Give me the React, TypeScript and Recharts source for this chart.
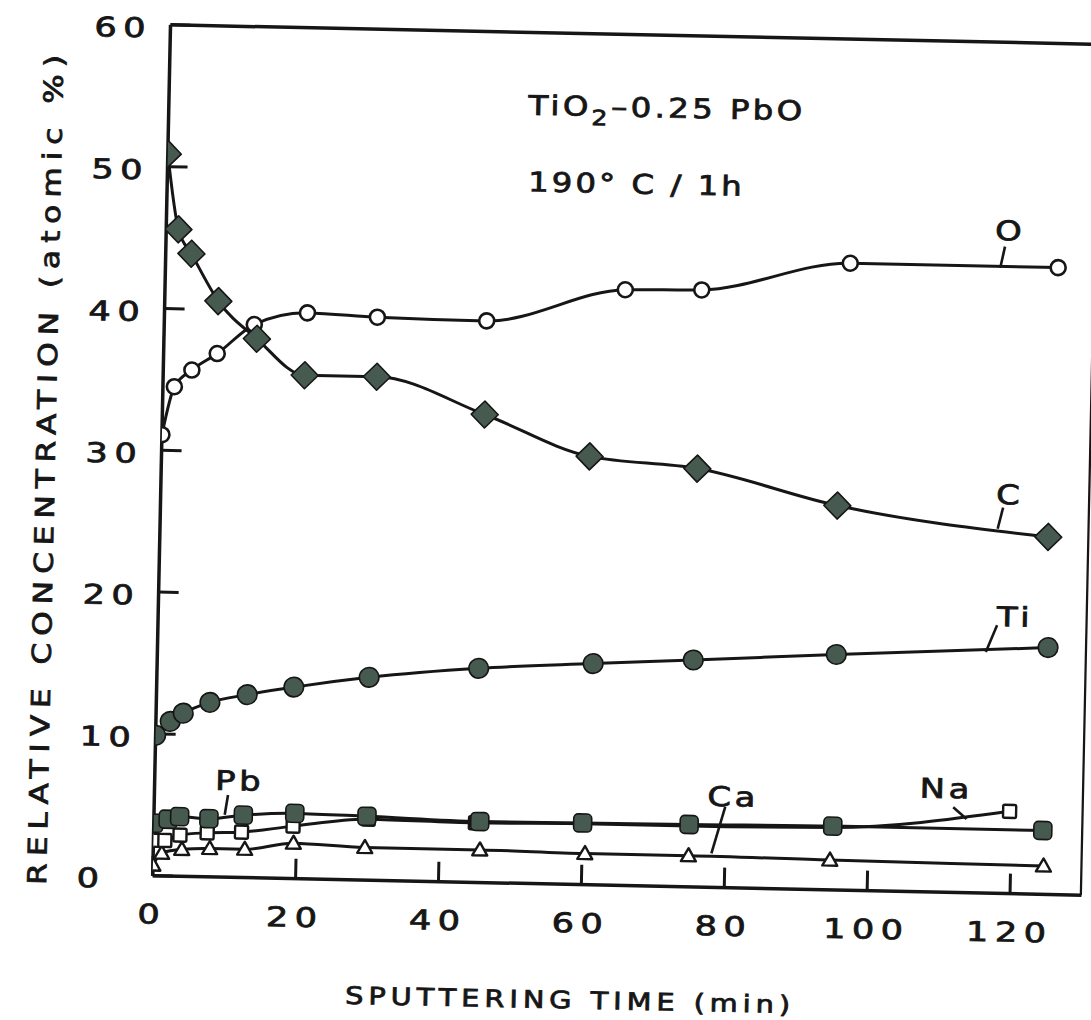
import React from 'react';
import { LineChart, Line, XAxis, YAxis, ReferenceLine, ReferenceDot, Label } from 'recharts';

// Sputter depth profile of a TiO2–0.25 PbO film annealed at 190 °C for 1 h
const timeTicks = [0, 20, 40, 60, 80, 100, 120];
const concTicks = [0, 10, 20, 30, 40, 50, 60];

const oxygenTime = [0, 1.6, 4, 7.5, 12.6, 20, 29.8, 45.1, 64.4, 75.1, 95.8, 124.9];
const oxygenConc = [31.1, 34.5, 35.7, 36.9, 39.0, 39.9, 39.7, 39.6, 42.0, 42.1, 44.2, 44.2];

const carbonTime = [0, 1.7, 3.6, 7.5, 13, 19.8, 29.9, 45.1, 59.9, 75, 94.7, 124.3];
const carbonConc = [50.9, 45.6, 43.9, 40.6, 38.0, 35.5, 35.5, 33.0, 30.2, 29.5, 27.1, 25.2];

const titaniumTime = [0, 2, 3.8, 7.5, 12.7, 19.2, 29.7, 45, 61, 75, 95, 124.6];
const titaniumConc = [9.9, 10.9, 11.5, 12.3, 12.9, 13.5, 14.3, 15.1, 15.6, 16.0, 16.6, 17.4];

const leadTime = [0, 2, 3.6, 7.7, 12.5, 19.7, 29.8, 45.6, 60, 74.9, 95, 124.4];
const leadConc = [3.7, 4.0, 4.2, 4.1, 4.4, 4.6, 4.5, 4.3, 4.35, 4.4, 4.5, 4.5];

const sodiumTime = [0, 1.6, 3.7, 7.5, 12.3, 19.5, 30, 45, 60, 75, 95, 119.7];
const sodiumConc = [2.5, 2.5, 2.9, 3.1, 3.2, 3.7, 4.3, 4.2, 4.3, 4.3, 4.4, 5.8];

const calciumTime = [0, 1.2, 4, 7.9, 12.8, 19.6, 29.6, 45.7, 60.4, 74.9, 94.7, 124.6];
const calciumConc = [0.75, 1.6, 1.9, 2.0, 2.0, 2.5, 2.3, 2.3, 2.2, 2.2, 2.1, 2.0];

const toPoints = (t: number[], v: number[]) => t.map((x, i) => ({ t: x, v: v[i] }));

const oxygen = toPoints(oxygenTime, oxygenConc);
const carbon = toPoints(carbonTime, carbonConc);
const titanium = toPoints(titaniumTime, titaniumConc);
const lead = toPoints(leadTime, leadConc);
const sodium = toPoints(sodiumTime, sodiumConc);
const calcium = toPoints(calciumTime, calciumConc);

// Element tags with their leader lines, placed in axis units
const seriesTags = [
  { text: 'O', at: [118.1, 46.7], lead: [[117.4, 45.6], [116.8, 44.1]] },
  { text: 'C', at: [118.8, 28.1], lead: [[117.9, 27.2], [117.2, 25.7]] },
  { text: 'Ti', at: [119.9, 19.5], lead: [[117.4, 18.9], [115.9, 17.0]] },
  { text: 'Pb', at: [11.9, 6.8], lead: [[10.3, 5.8], [9.9, 4.4]] },
  { text: 'Ca', at: [81.0, 6.4], lead: [[79.9, 5.7], [78.1, 2.4]] },
  { text: 'Na', at: [110.8, 7.3], lead: [[111.8, 6.0], [113.7, 5.2]] },
];

const INK = '#161616';
const FILL = '#475a4f';
const FONT = '"DejaVu Sans", Verdana, sans-serif';

type LetteringProps = {
  x: number;
  y: number;
  children: React.ReactNode;
  size?: number;
  stretch?: number;
  spacing?: number;
  anchor?: 'start' | 'middle' | 'end';
  rotate?: number;
  span?: number;
  central?: boolean;
};

// Wide technical-pen style lettering: stretched glyphs, open spacing, heavy stroke
function Lettering({ x, y, children, size = 27, stretch = 1.3, spacing = 5, anchor = 'middle', rotate = 0, span, central }: LetteringProps) {
  return (
    <text
      transform={`translate(${x},${y}) rotate(${rotate}) scale(${stretch},1)`}
      x={0}
      y={0}
      textAnchor={anchor}
      dominantBaseline={central ? 'central' : undefined}
      fontFamily={FONT}
      fontSize={size}
      letterSpacing={span ? undefined : spacing}
      textLength={span ? span / stretch : undefined}
      lengthAdjust={span ? 'spacing' : undefined}
      fill={INK}
      stroke={INK}
      strokeWidth={0.8}
    >
      {children}
    </text>
  );
}

const valid = (p: any) => typeof p.cx === 'number' && typeof p.cy === 'number' && !Number.isNaN(p.cy);

const DiamondDot = (p: any) => {
  if (!valid(p)) return <g key={p.key} />;
  const r = 13.5;
  const { cx, cy } = p;
  return (
    <polygon
      key={p.key}
      points={`${cx},${cy - r} ${cx + r},${cy} ${cx},${cy + r} ${cx - r},${cy}`}
      fill={FILL}
      stroke={INK}
      strokeWidth={1.6}
      strokeLinejoin="round"
    />
  );
};

const OpenCircleDot = (p: any) =>
  valid(p) ? <circle key={p.key} cx={p.cx} cy={p.cy} r={7.5} fill="#fff" stroke={INK} strokeWidth={2.6} /> : <g key={p.key} />;

const FilledCircleDot = (p: any) =>
  valid(p) ? <circle key={p.key} cx={p.cx} cy={p.cy} r={9.8} fill={FILL} stroke={INK} strokeWidth={1.6} /> : <g key={p.key} />;

const FilledSquareDot = (p: any) =>
  valid(p) ? (
    <rect key={p.key} x={p.cx - 9} y={p.cy - 9} width={18} height={18} rx={4.5} fill={FILL} stroke={INK} strokeWidth={1.6} />
  ) : (
    <g key={p.key} />
  );

const OpenSquareDot = (p: any) =>
  valid(p) ? (
    <rect key={p.key} x={p.cx - 6.5} y={p.cy - 6.5} width={13} height={13} rx={1.5} fill="#fff" stroke={INK} strokeWidth={2.4} />
  ) : (
    <g key={p.key} />
  );

const OpenTriangleDot = (p: any) => {
  if (!valid(p)) return <g key={p.key} />;
  const { cx, cy } = p;
  return (
    <polygon
      key={p.key}
      points={`${cx},${cy - 7.5} ${cx + 7.5},${cy + 5.5} ${cx - 7.5},${cy + 5.5}`}
      fill="#fff"
      stroke={INK}
      strokeWidth={2.4}
      strokeLinejoin="round"
    />
  );
};

const TimeTick = (p: any) => <Lettering x={p.x} y={p.y}>{p.payload.value}</Lettering>;
const ConcTick = (p: any) => (
  <Lettering x={p.x} y={p.y + 13} anchor="start">
    {p.payload.value}
  </Lettering>
);

const axisLine = { stroke: INK, strokeWidth: 3.5 };
const tickLine = { stroke: INK, strokeWidth: 3 };

const curve = (data: any[], dot: any, name: string) => (
  <Line
    key={name}
    name={name}
    data={data}
    dataKey="v"
    type="monotone"
    stroke={INK}
    strokeWidth={3}
    dot={dot}
    activeDot={false}
    isAnimationActive={false}
  />
);

export default function App() {
  return (
    <div style={{ position: 'absolute', left: 0, top: 0, width: 1091, height: 1020, background: '#fff', overflow: 'hidden' }}>
      <div style={{ transform: 'rotate(1.2deg)', transformOrigin: '626px 460px' }}>
        <LineChart width={1091} height={1020} margin={{ top: 0, right: 0, bottom: 0, left: 0 }}>
          <XAxis
            dataKey="t"
            type="number"
            domain={[0, 130]}
            ticks={timeTicks}
            allowDataOverflow
            height={134.5}
            axisLine={axisLine}
            tickLine={tickLine}
            tickSize={-20}
            tickMargin={68}
            tick={TimeTick}
            interval={0}
          >
            <Label
              content={(lp: any) => {
                const vb = lp.viewBox;
                return (
                  <Lettering x={vb.x + vb.width / 2 - 47} y={vb.y + 124} size={24} stretch={1.2} span={445}>
                    SPUTTERING TIME (min)
                  </Lettering>
                );
              }}
            />
          </XAxis>
          <XAxis
            xAxisId="top"
            orientation="top"
            type="number"
            domain={[0, 130]}
            ticks={timeTicks}
            allowDataOverflow
            height={34.5}
            axisLine={axisLine}
            tickLine={tickLine}
            tickSize={-20}
            tick={false}
            interval={0}
          />
          <YAxis
            type="number"
            domain={[0, 60]}
            ticks={concTicks}
            allowDataOverflow
            width={161.5}
            axisLine={axisLine}
            tickLine={tickLine}
            tickSize={-20}
            tickMargin={96}
            tick={ConcTick}
            interval={0}
          >
            <Label
              content={(lp: any) => {
                const vb = lp.viewBox;
                return (
                  <Lettering x={55} y={vb.y + vb.height / 2 + 22} size={26} stretch={1.2} rotate={-90} span={830}>
                    RELATIVE CONCENTRATION (atomic %)
                  </Lettering>
                );
              }}
            />
          </YAxis>
          <YAxis
            yAxisId="right"
            orientation="right"
            type="number"
            domain={[0, 60]}
            ticks={concTicks}
            allowDataOverflow
            width={0.5}
            axisLine={axisLine}
            tickLine={tickLine}
            tickSize={-20}
            tick={false}
            interval={0}
          />

          {seriesTags.map((tag) => (
            <ReferenceLine
              key={`lead-${tag.text}`}
              segment={[
                { x: tag.lead[0][0], y: tag.lead[0][1] },
                { x: tag.lead[1][0], y: tag.lead[1][1] },
              ]}
              stroke={INK}
              strokeWidth={2.6}
            />
          ))}
          {seriesTags.map((tag) => (
            <ReferenceDot key={`tag-${tag.text}`} x={tag.at[0]} y={tag.at[1]} r={0} fill="none" stroke="none">
              <Label
                content={(lp: any) => (
                  <Lettering x={lp.viewBox.x} y={lp.viewBox.y} size={27} stretch={1.25} spacing={3} central>
                    {tag.text}
                  </Lettering>
                )}
              />
            </ReferenceDot>
          ))}

          <ReferenceDot x={50.3} y={54.2} r={0} fill="none" stroke="none">
            <Label
              content={(lp: any) => (
                <text
                  transform={`translate(${lp.viewBox.x},${lp.viewBox.y}) scale(1.2,1)`}
                  fontFamily={FONT}
                  fontSize={27}
                  letterSpacing={2.8}
                  fill={INK}
                  stroke={INK}
                  strokeWidth={0.8}
                >
                  TiO
                  <tspan dy={9} fontSize={21}>2</tspan>
                  <tspan dy={-9}>–0.25 PbO</tspan>
                </text>
              )}
            />
          </ReferenceDot>
          <ReferenceDot x={50.5} y={48.8} r={0} fill="none" stroke="none">
            <Label
              content={(lp: any) => (
                <text
                  transform={`translate(${lp.viewBox.x},${lp.viewBox.y}) scale(1.2,1)`}
                  fontFamily={FONT}
                  fontSize={27}
                  letterSpacing={2.5}
                  fill={INK}
                  stroke={INK}
                  strokeWidth={0.8}
                >
                  190° C / 1h
                </text>
              )}
            />
          </ReferenceDot>

          {curve(calcium, OpenTriangleDot, 'Ca')}
          {curve(sodium, OpenSquareDot, 'Na')}
          {curve(lead, FilledSquareDot, 'Pb')}
          {curve(titanium, FilledCircleDot, 'Ti')}
          {curve(oxygen, OpenCircleDot, 'O')}
          {curve(carbon, DiamondDot, 'C')}
        </LineChart>
      </div>
    </div>
  );
}
